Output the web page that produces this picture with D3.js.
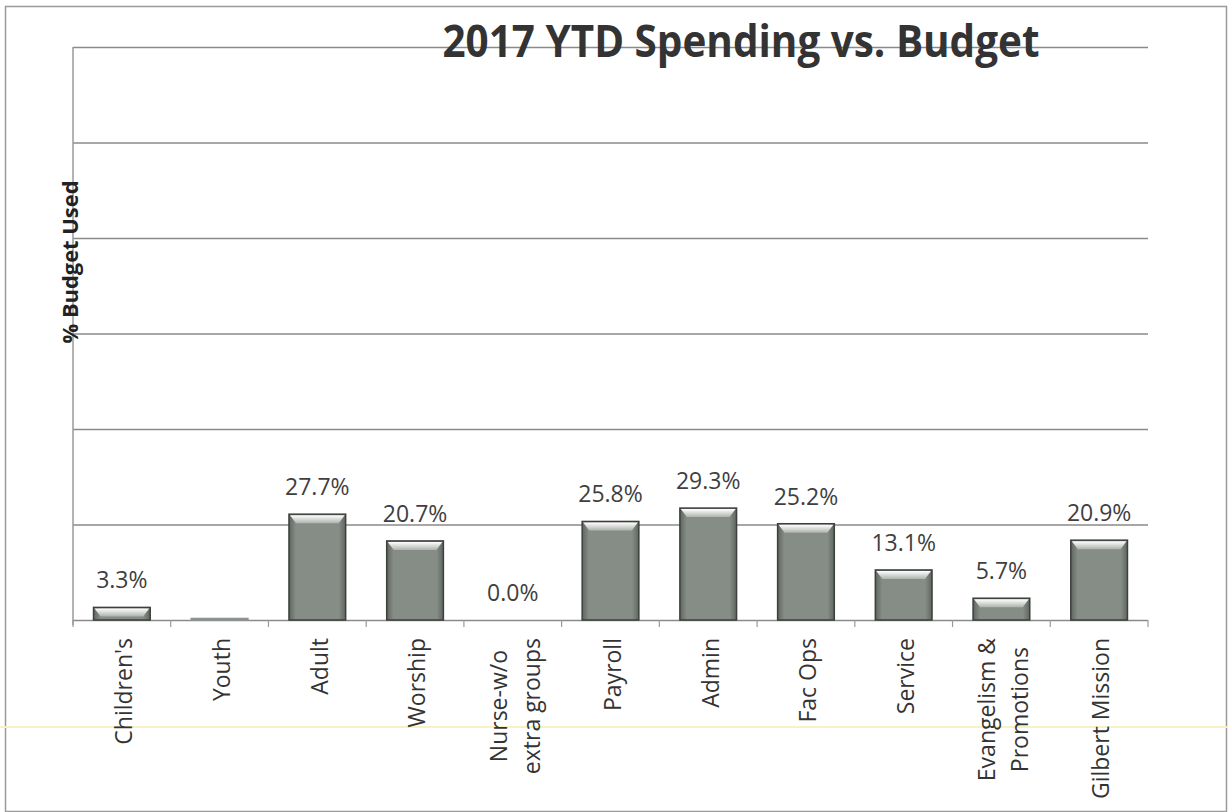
<!DOCTYPE html>
<html>
<head>
<meta charset="utf-8">
<script src="https://cdn.jsdelivr.net/npm/d3@7"></script>
<style>
  body { margin: 0; background: #fff; }
  text { font-family: "Open Sans", "Noto Sans", sans-serif; }
</style>
</head>
<body>
<div id="chart"></div>
<script>
// data
const categories = ["Children's", "Youth", "Adult", "Worship", "Nurse-w/o extra groups",
  "Payroll", "Admin", "Fac Ops", "Service", "Evangelism & Promotions", "Gilbert Mission"];
const categoryLines = [["Children's"], ["Youth"], ["Adult"], ["Worship"], ["Nurse-w/o", "extra groups"],
  ["Payroll"], ["Admin"], ["Fac Ops"], ["Service"], ["Evangelism &", "Promotions"], ["Gilbert Mission"]];
const budgetUsed = [3.3, 0.4, 27.7, 20.7, 0.0, 25.8, 29.3, 25.2, 13.1, 5.7, 20.9];
const valueLabels = ["3.3%", "", "27.7%", "20.7%", "0.0%", "25.8%", "29.3%", "25.2%", "13.1%", "5.7%", "20.9%"];
const yTicks = [0, 25, 50, 75, 100, 125, 150];

const rows = categories.map((c, i) => ({
  cat: c, lines: categoryLines[i], value: budgetUsed[i], label: valueLabels[i]
}));

const fullWidth = 1228;
const fullHeight = 812;
const margin = { top: 47, left: 73, right: 80, bottom: 192 };

const svg = d3.select("#chart")
  .append("svg")
  .attr("width", fullWidth)
  .attr("height", fullHeight);

const defs = svg.append("defs");
const bodyGrad = defs.append("linearGradient").attr("id", "barBody")
  .attr("x1", 0).attr("x2", 1).attr("y1", 0).attr("y2", 0);
bodyGrad.append("stop").attr("offset", "0%").attr("stop-color", "#5f665f");
bodyGrad.append("stop").attr("offset", "12%").attr("stop-color", "#868d86");
bodyGrad.append("stop").attr("offset", "88%").attr("stop-color", "#868d86");
bodyGrad.append("stop").attr("offset", "100%").attr("stop-color", "#5f665f");
const topGrad = defs.append("linearGradient").attr("id", "barTop")
  .attr("x1", 0).attr("x2", 0).attr("y1", 0).attr("y2", 1);
topGrad.append("stop").attr("offset", "0%").attr("stop-color", "#ffffff");
topGrad.append("stop").attr("offset", "100%").attr("stop-color", "#aeb3ae");

// outer frame
svg.append("rect")
  .attr("x", 5.5).attr("y", 6.5)
  .attr("width", 1221).attr("height", 805)
  .attr("fill", "none")
  .attr("stroke", "#9a9a9a")
  .attr("stroke-width", 1.5);

// faint scan line
svg.append("line")
  .attr("x1", 0).attr("x2", fullWidth)
  .attr("y1", 727).attr("y2", 727)
  .attr("stroke", "#f6f2c2")
  .attr("stroke-width", 2);

const x = d3.scaleBand()
  .domain(categories)
  .range([margin.left, fullWidth - margin.right])
  .paddingInner(0.42)
  .paddingOuter(0.21);

const y = d3.scaleLinear()
  .domain([0, 150])
  .range([fullHeight - margin.bottom, margin.top]);

// gridlines
svg.append("g")
  .attr("transform", `translate(${margin.left},0)`)
  .call(d3.axisLeft(y).tickValues(yTicks).tickSize(-(fullWidth - margin.right - margin.left)).tickFormat(""))
  .call(g => g.select(".domain").remove())
  .call(g => g.selectAll(".tick line").attr("stroke", "#8a8a8a").attr("stroke-width", 1.5));

// y axis line
svg.append("line")
  .attr("x1", margin.left).attr("x2", margin.left)
  .attr("y1", y(150)).attr("y2", y(0) + 5)
  .attr("stroke", "#9a9a9a")
  .attr("stroke-width", 1.5);

// x axis ticks at band boundaries
const step = x.step();
const boundaries = d3.range(categories.length + 1).map(i => margin.left + i * step);
svg.append("g").selectAll("line")
  .data(boundaries)
  .enter()
  .append("line")
  .attr("x1", d => d).attr("x2", d => d)
  .attr("y1", y(0)).attr("y2", y(0) + 7)
  .attr("stroke", "#9a9a9a")
  .attr("stroke-width", 1.2);

// bars
const bar = svg.selectAll(".bar")
  .data(rows.filter(d => d.value > 0))
  .enter()
  .append("g")
  .attr("class", "bar");

bar.append("rect")
  .attr("x", d => x(d.cat))
  .attr("y", d => y(d.value))
  .attr("width", x.bandwidth())
  .attr("height", d => y(0) - y(d.value))
  .attr("fill", "url(#barBody)")
  .attr("stroke", d => y(0) - y(d.value) > 4 ? "#3b403b" : "#8f948f")
  .attr("stroke-width", 1.5);

bar.filter(d => y(0) - y(d.value) > 8)
  .append("polygon")
  .attr("points", d => {
    const x0 = x(d.cat) + 1, x1 = x0 + x.bandwidth() - 2, t = y(d.value) + 1, b = t + 8;
    return `${x0},${t} ${x1},${t} ${x1 - 6},${b} ${x0 + 6},${b}`;
  })
  .attr("fill", "url(#barTop)");

// value labels
svg.selectAll(".value")
  .data(rows)
  .enter()
  .append("text")
  .attr("class", "value")
  .attr("x", d => x(d.cat) + x.bandwidth() / 2)
  .attr("y", d => y(d.value) - 19)
  .attr("text-anchor", "middle")
  .attr("font-size", 23)
  .attr("fill", "#3f3f3f")
  .text(d => d.label);

// category labels
const lineGap = 33;
const cat = svg.selectAll(".cat")
  .data(rows)
  .enter()
  .append("g")
  .attr("class", "cat")
  .attr("transform", d => `translate(${x(d.cat) + x.bandwidth() / 2 + 2}, ${y(0) + 18}) rotate(-90)`);

cat.each(function(d) {
  const g = d3.select(this);
  const texts = d.lines.map((ln, j) => g.append("text")
    .attr("font-size", 23)
    .attr("fill", "#333")
    .attr("text-anchor", "middle")
    .attr("dy", "0.36em")
    .attr("y", (j - (d.lines.length - 1) / 2) * lineGap)
    .text(ln));
  const maxLen = d3.max(texts, t => t.node().getComputedTextLength());
  texts.forEach(t => t.attr("x", -maxLen / 2));
});

// title
svg.append("text")
  .attr("x", 741)
  .attr("y", 57)
  .attr("text-anchor", "middle")
  .attr("font-size", 45)
  .attr("font-weight", "bold")
  .attr("fill", "#333")
  .attr("textLength", 597)
  .attr("lengthAdjust", "spacingAndGlyphs")
  .text("2017 YTD Spending vs. Budget");

// y axis title
svg.append("text")
  .attr("transform", "translate(78, 262) rotate(-90)")
  .attr("text-anchor", "middle")
  .attr("font-size", 21)
  .attr("font-weight", "bold")
  .attr("fill", "#222")
  .attr("textLength", 163)
  .attr("lengthAdjust", "spacingAndGlyphs")
  .text("% Budget Used");
</script>
</body>
</html>
